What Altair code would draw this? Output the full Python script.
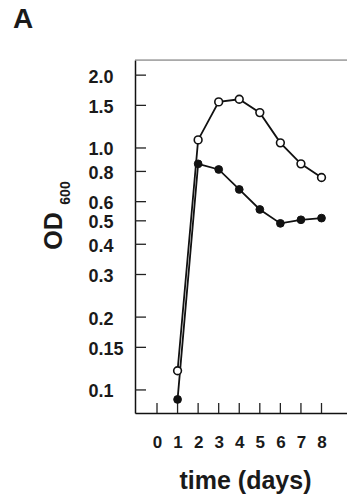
import altair as alt
import pandas as pd

# ---- data ----
days = [1, 2, 3, 4, 5, 6, 7, 8]
od_open = [0.120, 1.08, 1.55, 1.59, 1.40, 1.05, 0.86, 0.755]
od_filled = [0.0914, 0.86, 0.815, 0.674, 0.557, 0.488, 0.505, 0.513]
x_ticks = [0, 1, 2, 3, 4, 5, 6, 7, 8]
y_ticks = [0.1, 0.15, 0.2, 0.3, 0.4, 0.5, 0.6, 0.8, 1.0, 1.5, 2.0]

W, H = 212, 353
FONT = "Liberation Sans"
INK = "#1a1a1a"

df = pd.DataFrame({
    "day": days * 2,
    "od": od_open + od_filled,
    "series": ["open"] * len(days) + ["filled"] * len(days),
})
xt = pd.DataFrame({"day": x_ticks})
yt = pd.DataFrame({"od": y_ticks})
one = pd.DataFrame({"t": ["A"]})

xscale = alt.Scale(domain=[-1.07, 9.24], nice=False, zero=False)
yscale = alt.Scale(type="log", domain=[0.0803, 2.31], nice=False)

xaxis = alt.Axis(
    values=x_ticks, ticks=False, grid=False, labelOverlap=False,
    labelFont=FONT, labelFontWeight="bold", labelFontSize=17, labelColor=INK,
    labelPadding=21, labelBaseline="top",
    title="time (days)", titleFont=FONT, titleFontWeight="bold", titleFontSize=25,
    titleColor=INK, titleX=110, titleY=75, titleAlign="center", titleBaseline="alphabetic",
    domainColor="#111", domainWidth=1.5,
)
yaxis = alt.Axis(
    values=y_ticks, ticks=False, grid=False, labelOverlap=False,
    labelExpr="datum.value >= 1 ? format(datum.value, '.1f') : format(datum.value, '~g')",
    labelFont=FONT, labelFontWeight="bold", labelFontSize=18, labelColor=INK,
    labelAlign="left", labelPadding=47, labelBaseline="middle", labelOffset=2,
    title="", domainColor="#111", domainWidth=1.5,
)

X = alt.X("day:Q", scale=xscale, axis=xaxis)
Y = alt.Y("od:Q", scale=yscale, axis=yaxis)

base = alt.Chart(df)
lines = base.mark_line(color="#111", strokeWidth=1.8).encode(x=X, y=Y, detail="series:N")
pts_open = base.transform_filter(alt.datum.series == "open").mark_point(
    shape="circle", filled=True, fill="white", stroke="#111", strokeWidth=1.6, size=60, opacity=1
).encode(x=X, y=Y)
pts_filled = base.transform_filter(alt.datum.series == "filled").mark_point(
    shape="circle", filled=True, fill="#111", stroke="#111", strokeWidth=1, size=60, opacity=1
).encode(x=X, y=Y)

xtick_marks = alt.Chart(xt).mark_rule(color="#222", strokeWidth=1.3).encode(
    x=X, y=alt.value(H), y2=alt.value(H - 10)
)
ytick_marks = alt.Chart(yt).mark_rule(color="#222", strokeWidth=1.3).encode(
    y=Y, x=alt.value(0), x2=alt.value(11)
)
top_line = alt.Chart(one).mark_rule(color="#777", strokeWidth=1).encode(
    x=alt.value(0), x2=alt.value(W), y=alt.value(0)
)
label_a = alt.Chart(one).mark_text(
    text="A", font=FONT, fontWeight="bold", fontSize=28, color=INK, align="left", baseline="alphabetic"
).encode(x=alt.value(-122), y=alt.value(-32))
label_od = alt.Chart(one).mark_text(
    text="OD", font=FONT, fontWeight="bold", fontSize=25, color=INK, align="center",
    baseline="alphabetic", angle=270
).encode(x=alt.value(-73), y=alt.value(171))
label_sub = alt.Chart(one).mark_text(
    text="600", font=FONT, fontWeight="bold", fontSize=14, color=INK, align="center",
    baseline="alphabetic", angle=270
).encode(x=alt.value(-65), y=alt.value(133))

chart = alt.layer(
    lines, xtick_marks, ytick_marks, top_line, pts_open, pts_filled, label_a, label_od, label_sub
).properties(
    width=W, height=H,
    autosize=alt.AutoSizeParams(type="none"),
    padding={"left": 135, "top": 60, "right": 0, "bottom": 81},
).configure_view(stroke=None).configure(background="white")

chart.save("out.html", embed_options={"renderer": "svg", "actions": False})
